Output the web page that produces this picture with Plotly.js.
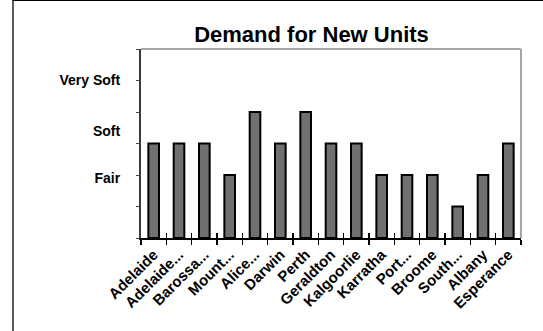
<!DOCTYPE html>
<html>
<head>
<meta charset="utf-8">
<script src="https://cdn.plot.ly/plotly-3.0.1.min.js"></script>
<style>
html,body{margin:0;padding:0;background:#fff;}
#wrap{position:relative;width:543px;height:331px;overflow:hidden;}
#chart{position:absolute;left:0;top:0;width:543px;height:331px;}
#frame{position:absolute;left:12px;top:0;width:600px;height:400px;border-left:2px solid #5a5a5a;border-top:1px solid #000;pointer-events:none;}
</style>
</head>
<body>
<div id="wrap"><div id="chart"></div><div id="frame"></div></div>
<script>
const categories = ["Adelaide","Adelaide...","Barossa...","Mount...","Alice...","Darwin","Perth","Geraldton","Kalgoorlie","Karratha","Port...","Broome","South...","Albany","Esperance"];
const demand = [3,3,3,2,4,3,4,3,3,2,2,2,1,2,3];
const levelLabels = ["Fair","Soft","Very Soft"];
const levelPositions = [1.9,3.4,5.0];
const gridSteps = [0,1,2,3,4,5,6];

const font = "Liberation Sans, Arial, sans-serif";
const trace = {
  type: "bar",
  x: categories,
  y: demand,
  marker: {color: "#6f7072", line: {color: "#000", width: 2}},
  hoverinfo: "skip"
};
// carrier trace (draws nothing) so the overlay axes that hold the crossing tick marks are built
const axisCarrier = {
  type: "scatter", mode: "none", x: categories, y: demand,
  xaxis: "x2", yaxis: "y2", hoverinfo: "skip", showlegend: false
};
const layout = {
  width: 543, height: 331,
  margin: {l: 141, r: 22, t: 49, b: 93},
  paper_bgcolor: "#fff", plot_bgcolor: "#fff",
  showlegend: false,
  bargap: 0.58,
  title: {text: "<b>Demand for New Units</b>", font: {family: font, size: 22, color: "#000"},
          x: 311.5/543, xref: "container", xanchor: "center", y: 1-34/331, yref: "container", yanchor: "middle"},
  xaxis: {type: "category", categoryarray: categories, range: [-0.5, 14.5],
          tickangle: -45, tickfont: {family: font, size: 15, color: "#000", weight: "bold"},
          ticks: "outside", tickson: "boundaries", ticklen: 5, tickwidth: 1.5, tickcolor: "#000",
          showline: true, linecolor: "#000", linewidth: 2, showgrid: false, zeroline: false, fixedrange: true},
  xaxis2: {type: "category", categoryarray: categories, range: [-0.5, 14.5], overlaying: "x", anchor: "y2", side: "bottom",
          ticks: "inside", tickson: "boundaries", ticklen: 5, tickwidth: 1.5, tickcolor: "#000",
          showticklabels: false, showline: false, showgrid: false, zeroline: false, fixedrange: true},
  yaxis: {range: [0, 6], tickmode: "array", tickvals: levelPositions, ticktext: levelLabels,
          tickfont: {family: font, size: 14, color: "#000", weight: "bold"}, ticks: "", ticklabelstandoff: 16,
          showline: true, linecolor: "#3a3a3a", linewidth: 2, showgrid: false, zeroline: false, fixedrange: true},
  yaxis2: {range: [0, 6], overlaying: "y", side: "left", anchor: "x2", tickmode: "array", tickvals: gridSteps,
          ticks: "outside", ticklen: 4, tickwidth: 1, tickcolor: "#444", showticklabels: false,
          showline: false, showgrid: false, zeroline: false, fixedrange: true},
  shapes: [
    {type: "line", xref: "paper", yref: "paper", x0: 0, x1: 1, y0: 1, y1: 1, line: {color: "#a6a6a6", width: 2}},
    {type: "line", xref: "paper", yref: "paper", x0: 1, x1: 1, y0: 0, y1: 1, line: {color: "#a6a6a6", width: 2}}
  ]
};
Plotly.newPlot("chart", [trace, axisCarrier], layout, {staticPlot: true, displayModeBar: false});
</script>
</body>
</html>
